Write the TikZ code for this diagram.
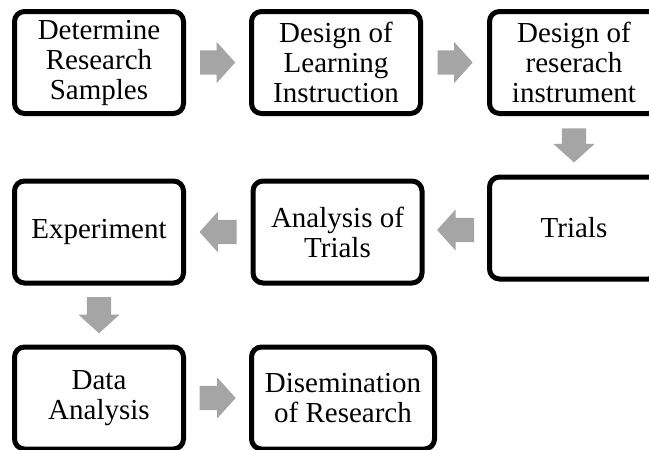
\documentclass[tikz,border=0pt]{standalone}
\usepackage{fontspec}
\setmainfont{Liberation Serif}
\usetikzlibrary{positioning,calc,shapes.arrows}
\definecolor{arrowgray}{RGB}{165,165,165}

\begin{document}
\begin{tikzpicture}[x=1pt,y=-1pt,
    stepbox/.style={draw,line width=5pt,rounded corners=10pt,align=center,
        minimum width=169pt,minimum height=102pt,inner sep=2pt,
        font=\fontsize{29}{30}\selectfont},
    blockarrow/.style={single arrow,fill=arrowgray,draw=none,inner xsep=0pt,
        inner ysep=12pt,single arrow head extend=8.5pt,single arrow tip angle=96,
        anchor=tail}]
    \useasboundingbox (0,0) rectangle (649,450);
    \clip (0,0) rectangle (649,450);
    \node[stepbox] (samples) at (99,62.5) {Determine\\Research\\Samples};
    \node[stepbox] (learning) at (336,62.5) {Design of\\Learning\\Instruction};
    \node[stepbox] (instrument) at (574,62.5) {Design of\\reserach\\instrument};
    \node[stepbox] (trials) at (574,228) {Trials};
    \node[stepbox] (analysis) at (337.5,232) {Analysis of\\Trials};
    \node[stepbox] (experiment) at (99,232) {Experiment};
    \node[stepbox] (data) at (99,398) {Data\\Analysis};
    \node[stepbox,minimum width=183pt] (disemination) at (343,398) {Disemination\\of Research};
    % block arrows, tail placed half a length before the midpoint
    \node[blockarrow,minimum height=35pt] (a1) at ($(samples.east)!0.5!(learning.west)+(-17.5,0)$) {};
    \node[blockarrow,minimum height=35pt] (a2) at ($(learning.east)!0.5!(instrument.west)+(-17.5,0)$) {};
    \node[blockarrow,minimum height=34pt,rotate=-90] (a3) at ($(instrument.south)!0.5!(trials.north)+(0,-17)$) {};
    \node[blockarrow,minimum height=37pt,rotate=180] (a4) at ($(trials.west)!0.5!(analysis.east)+(18.5,0)$) {};
    \node[blockarrow,minimum height=37pt,rotate=180] (a5) at ($(analysis.west)!0.5!(experiment.east)+(18.5,0)$) {};
    \node[blockarrow,minimum height=36pt,rotate=-90] (a6) at ($(experiment.south)!0.5!(data.north)+(0,-18)$) {};
    \node[blockarrow,minimum height=36pt] (a7) at ($(data.east)!0.5!(disemination.west)+(-18,0)$) {};
\end{tikzpicture}
\end{document}
